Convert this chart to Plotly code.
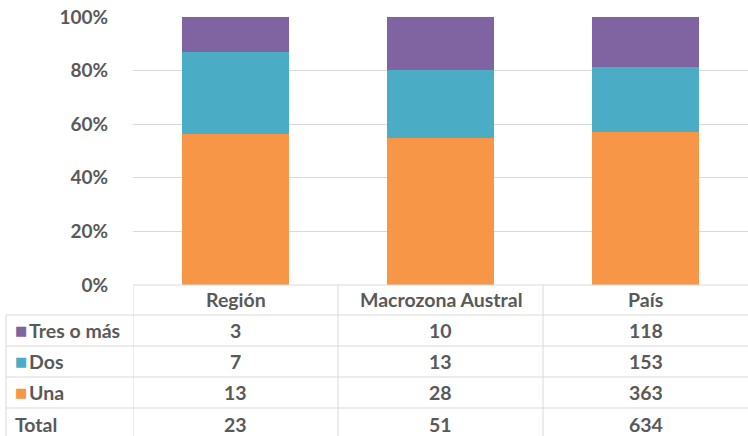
import plotly.graph_objects as go

# data
categories = ["Región", "Macrozona Austral", "País"]
series_names = ["Una", "Dos", "Tres o más"]
una = [13, 28, 363]
dos = [7, 13, 153]
tres = [3, 10, 118]
totals = [23, 51, 634]
colors = {"Una": "#f79646", "Dos": "#4bacc6", "Tres o más": "#8064a2"}
tick_vals = [0, 20, 40, 60, 80, 100]
tick_text = ["0%", "20%", "40%", "60%", "80%", "100%"]

W, H = 748, 436
FONT = "Lato"
TXT = "#595959"
GRID = "#d9d9d9"


def py(pixel_y):
    # pixel row -> paper y (margins are zero)
    return 1 - pixel_y / H


fig = go.Figure()
for name, vals in zip(series_names, [una, dos, tres]):
    fig.add_trace(
        go.Bar(
            x=categories,
            y=vals,
            name=name,
            marker=dict(color=colors[name], line=dict(width=0)),
            showlegend=False,
            hoverinfo="skip",
        )
    )

cell_font = dict(family=FONT, size=19.5, color=TXT, weight="bold")

# data table under the chart
rows = [("Tres o más", tres), ("Dos", dos), ("Una", una), ("Total", totals)]
row_y = [330, 361, 392, 424]
for (label, vals), yy in zip(rows, row_y):
    if label in colors:
        fig.add_annotation(
            x=13 / W, y=py(yy), xref="paper", yref="paper", text="■",
            showarrow=False, xanchor="left", yanchor="middle",
            font=dict(family="DejaVu Sans", size=13, color=colors[label]),
        )
        x_lbl = 27 / W
    else:
        x_lbl = 13 / W
    fig.add_annotation(
        x=x_lbl, y=py(yy), xref="paper", yref="paper", text=label,
        showarrow=False, xanchor="left", yanchor="middle", font=cell_font,
    )
    for cat, v in zip(categories, vals):
        fig.add_annotation(
            x=cat, y=py(yy), xref="x", yref="paper", text=str(v),
            showarrow=False, xanchor="center", yanchor="middle", font=cell_font,
        )
for cat in categories:
    fig.add_annotation(
        x=cat, y=py(299), xref="x", yref="paper", text=cat,
        showarrow=False, xanchor="center", yanchor="middle", font=cell_font,
    )

# table grid lines
line = dict(color=GRID, width=1)
fig.add_shape(type="line", xref="x", yref="paper", x0=-0.5, x1=2.5,
              y0=py(285), y1=py(285), line=line)
for yy in [315, 346, 377, 408]:
    fig.add_shape(type="line", xref="paper", yref="paper", x0=6 / W, x1=1,
                  y0=py(yy), y1=py(yy), line=line)
for xb in [-0.5, 0.5, 1.5]:
    fig.add_shape(type="line", xref="x", yref="paper", x0=xb, x1=xb,
                  y0=py(285), y1=0, line=line)
fig.add_shape(type="line", xref="paper", yref="paper", x0=6 / W, x1=6 / W,
              y0=py(315), y1=0, line=line)

fig.update_layout(
    width=W,
    height=H,
    barmode="stack",
    barnorm="percent",
    bargap=0.48,
    plot_bgcolor="white",
    paper_bgcolor="white",
    margin=dict(l=0, r=0, t=0, b=0),
    font=dict(family=FONT, color=TXT),
    xaxis=dict(
        domain=[133 / W, 1],
        range=[-0.5, 2.5],
        showticklabels=False,
        showgrid=False,
        zeroline=False,
    ),
    yaxis=dict(
        domain=[py(285), py(17)],
        range=[0, 100],
        tickvals=tick_vals,
        ticktext=tick_text,
        ticks="outside",
        ticklen=20,
        tickcolor="rgba(0,0,0,0)",
        tickfont=dict(family=FONT, size=19, color=TXT, weight="bold"),
        showgrid=True,
        gridcolor=GRID,
        gridwidth=1,
        zeroline=False,
        automargin=False,
    ),
)

fig.write_html(
    "out.html",
    config={"displayModeBar": False},
    post_script="document.body.style.margin='0';",
)
